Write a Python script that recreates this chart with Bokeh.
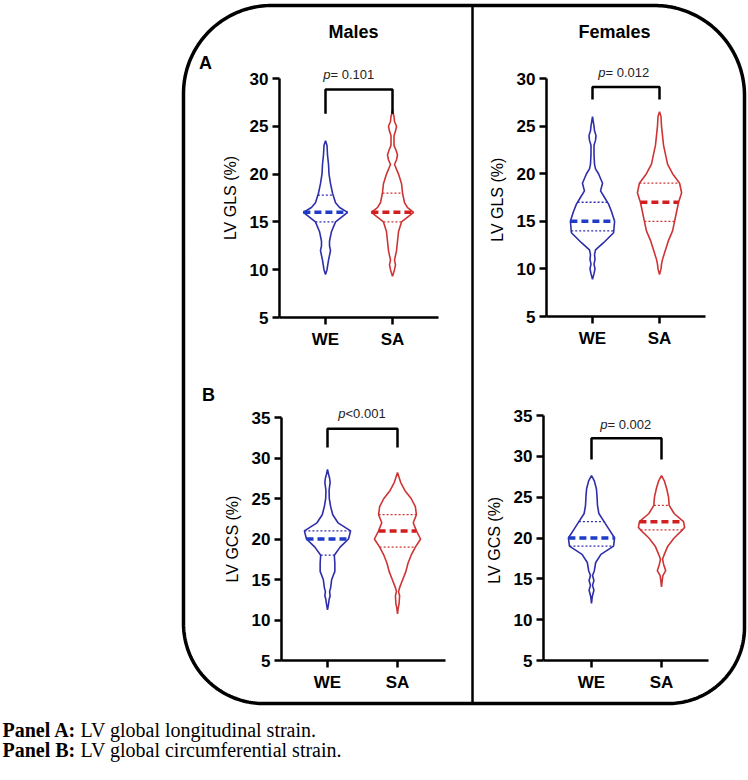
import numpy as np
from bokeh.plotting import figure
from bokeh.models import Label, FixedTicker, Range1d, LinearAxis
from bokeh.embed import file_html
from bokeh.resources import INLINE

# ---------------- data ----------------
groups = ["WE", "SA"]
group_x = [1, 2]

# Males, LV GLS (%) -- violin outline: value levels and relative half-widths
male_gls_we_y = [9.5, 10, 11, 12, 12.5, 13, 14, 15, 15.5, 16, 16.5, 17, 18, 19, 20, 21, 22, 23, 23.5]
male_gls_we_w = [0, 1.5, 3, 5, 4, 4, 6, 10, 16, 22, 14, 10, 7, 5, 3.5, 3, 2, 1.5, 0]
male_gls_we_q = [15, 16, 17.8]
male_gls_sa_y = [9.3, 10, 10.5, 11, 12, 13, 14, 15, 15.5, 16, 16.5, 17, 18, 19, 20, 21, 21.5, 22, 22.5, 23, 24, 24.5, 25, 25.5, 26, 26.7]
male_gls_sa_w = [0, 2, 3, 2, 4, 5, 6, 9, 15, 21, 15, 12, 10, 9, 6, 2, 4, 5, 3.5, 1.5, 1.5, 3, 4, 2, 1.5, 0]
male_gls_sa_q = [15, 16, 18]

# Females, LV GLS (%)
female_gls_we_y = [8.9, 9.5, 10, 10.5, 11, 11.5, 12, 12.75, 13.8, 15, 16, 16.8, 17.5, 18.2, 19, 20, 20.5, 21, 22, 23, 23.5, 24, 24.5, 25, 26]
female_gls_we_w = [0, 1.5, 2.5, 1.5, 2.5, 2, 3, 11, 21, 22, 19, 16, 12, 8, 10, 6, 3, 2, 1.5, 1.5, 3, 3.5, 2, 1.5, 0]
female_gls_we_q = [14, 15, 17]
female_gls_sa_y = [9.4, 10, 10.5, 11, 12, 13, 14, 15, 16, 17, 18, 19, 20, 21, 22, 23, 24, 25, 26, 26.5]
female_gls_sa_w = [0, 1.5, 2, 3, 6, 9, 13, 15, 17, 19, 22, 20, 13, 8, 6, 4, 3, 2, 1.5, 0]
female_gls_sa_q = [15, 17, 19]

# Males, LV GCS (%)
male_gcs_we_y = [11.25, 12, 12.5, 13, 13.5, 14, 15, 16, 17, 18, 19, 20, 20.5, 21, 21.5, 22, 23, 24, 25, 26, 26.5, 27, 27.5, 28, 28.6]
male_gcs_we_w = [0, 1, 1.5, 2.5, 2, 3, 4, 7, 7, 6.5, 12, 20, 21, 22, 16, 10, 5, 3, 1.7, 1.5, 2, 2.5, 2, 1, 0]
male_gcs_we_q = [18, 20, 21]
male_gcs_sa_y = [10.75, 11.5, 12, 13, 13.5, 14, 15, 16, 17, 18, 19, 20, 21, 22, 23, 24, 25, 26, 27, 28.2]
male_gcs_sa_w = [0, 0.7, 1.5, 2, 1, 2, 5, 8, 10, 13, 17, 22, 18, 15, 18, 17, 13, 7, 3, 0]
male_gcs_sa_q = [19, 21, 23]

# Females, LV GCS (%)
female_gcs_we_y = [12, 12.8, 13.6, 14.2, 14.8, 15.4, 16, 17, 18, 19, 20, 21, 22, 23, 24, 25, 26, 27, 27.65]
female_gcs_we_w = [0, 0.7, 2.3, 1, 2.3, 1, 2.7, 4, 9, 21, 22, 17, 12, 7, 5.7, 5.3, 4.7, 2.7, 0]
female_gcs_we_q = [19, 20, 22]
female_gcs_sa_y = [14, 14.8, 15.4, 16, 16.8, 17.4, 18, 19, 20, 21, 21.3, 22, 23, 24, 25, 26, 27, 27.65]
female_gcs_sa_w = [0, 0.7, 1.3, 4, 2, 1, 2.7, 6, 12, 20, 22, 21, 12, 7.3, 6.7, 5, 2.7, 0]
female_gcs_sa_q = [21, 22, 24]

gls_ticks = [5, 10, 15, 20, 25, 30]
gcs_ticks = [5, 10, 15, 20, 25, 30, 35]

p_values = ["= 0.101", "= 0.012", "<0.001", "= 0.002"]
bracket_top = [28.85, 29.1, 33.6, 32.2]
bracket_end = [26.3, 27.8, 31.3, 29.6]

column_titles = ["Males", "Females"]
panel_letters = ["A", "B"]
caption_bold = ["Panel A:", "Panel B:"]
caption_text = ["LV global longitudinal strain.", "LV global circumferential strain."]

# ---------------- style / geometry ----------------
SANS = "Liberation Sans"
SERIF = "Liberation Serif"
BLUE = "#2e2eab"
BLUE_MED = "#1f3cc8"
RED = "#cf3434"
RED_MED = "#d21e1e"
HALF_W = 0.33 / 22.0   # category units per relative width unit

W, H = 748, 778
FR_L, FR_T, FR_R, FR_B = 183, 5, 744, 703
DIV_X = 472


def rounded_path(L, T, R, B, rtl, rtr, rbr, rbl, n=60):
    xs, ys = [], []
    for cx, cy, r, a0, a1 in [
        (L + rtl, T + rtl, rtl, np.pi, 1.5 * np.pi),
        (R - rtr, T + rtr, rtr, 1.5 * np.pi, 2 * np.pi),
        (R - rbr, B - rbr, rbr, 0, 0.5 * np.pi),
        (L + rbl, B - rbl, rbl, 0.5 * np.pi, np.pi),
    ]:
        a = np.linspace(a0, a1, n)
        xs += list(cx + r * np.cos(a))
        ys += list(cy + r * np.sin(a))
    return xs + [xs[0]], ys + [ys[0]]


FRAME_XS, FRAME_YS = rounded_path(FR_L, FR_T, FR_R, FR_B, 88, 90, 76, 80)

# one canvas; default ranges are page pixels (y downward)
p = figure(frame_width=W, frame_height=H, x_range=Range1d(0, W), y_range=Range1d(H, 0),
           x_axis_type=None, y_axis_type=None, min_border=0,
           toolbar_location=None, output_backend="svg", tools="")
p.outline_line_color = None
p.grid.visible = False
p.background_fill_color = "white"
p.border_fill_color = "white"

# rounded frame and divider
p.line(FRAME_XS, FRAME_YS, line_color="black", line_width=3.5, line_join="round")
p.line([DIV_X, DIV_X], [FR_T, FR_B], line_color="black", line_width=2.5)

panels = [
    dict(cat_px=(325, 392), yaxis_px=279, xend_px=438, py_v=(317, 78), yv=(5, 30),
         ticks=gls_ticks, ylabel="LV GLS (%)",
         viol=[(male_gls_we_y, male_gls_we_w, male_gls_we_q), (male_gls_sa_y, male_gls_sa_w, male_gls_sa_q)],
         ptext=(330, 74)),
    dict(cat_px=(592, 659), yaxis_px=546, xend_px=705, py_v=(316, 78), yv=(5, 30),
         ticks=gls_ticks, ylabel="LV GLS  (%)",
         viol=[(female_gls_we_y, female_gls_we_w, female_gls_we_q), (female_gls_sa_y, female_gls_sa_w, female_gls_sa_q)],
         ptext=(605, 72)),
    dict(cat_px=(327, 397), yaxis_px=281, xend_px=445, py_v=(660, 417), yv=(5, 35),
         ticks=gcs_ticks, ylabel="LV GCS (%)",
         viol=[(male_gcs_we_y, male_gcs_we_w, male_gcs_we_q), (male_gcs_sa_y, male_gcs_sa_w, male_gcs_sa_q)],
         ptext=(345, 413)),
    dict(cat_px=(591, 661), yaxis_px=543, xend_px=708, py_v=(660, 415), yv=(5, 35),
         ticks=gcs_ticks, ylabel="LV GCS  (%)",
         viol=[(female_gcs_we_y, female_gcs_we_w, female_gcs_we_q), (female_gcs_sa_y, female_gcs_sa_w, female_gcs_sa_q)],
         ptext=(607, 424)),
]


def style_axis(ax):
    ax.axis_line_width = 2.5
    ax.axis_line_color = "black"
    ax.major_tick_line_width = 2.5
    ax.major_tick_line_color = "black"
    ax.major_tick_in = 0
    ax.major_tick_out = 7
    ax.minor_tick_line_color = None
    ax.major_label_text_font = SANS
    ax.major_label_text_font_style = "bold"
    ax.major_label_text_font_size = "17px"
    ax.major_label_text_color = "black"


for k, spec in enumerate(panels):
    c0, c1 = spec["cat_px"]
    pyv0, pyv1 = spec["py_v"]
    v0, v1 = spec["yv"]

    def X(px, c0=c0, c1=c1):
        return group_x[0] + (px - c0) * (group_x[1] - group_x[0]) / (c1 - c0)

    def Y(py, pyv0=pyv0, pyv1=pyv1, v0=v0, v1=v1):
        return v0 + (pyv0 - py) * (v1 - v0) / (pyv0 - pyv1)

    xn, yn = f"px{k}", f"py{k}"
    p.extra_x_ranges[xn] = Range1d(X(0), X(W))
    p.extra_y_ranges[yn] = Range1d(Y(H), Y(0))
    kw = dict(x_range_name=xn, y_range_name=yn)

    xa0, xa1 = X(spec["yaxis_px"]), X(spec["xend_px"])
    yax = LinearAxis(fixed_location=xa0, bounds=(v0, v1), ticker=FixedTicker(ticks=spec["ticks"]),
                     axis_label=spec["ylabel"], **kw)
    style_axis(yax)
    yax.major_label_standoff = 4
    yax.axis_label_text_font = SANS
    yax.axis_label_text_font_style = "normal"
    yax.axis_label_text_font_size = "16px"
    yax.axis_label_text_color = "black"
    yax.axis_label_standoff = 8
    p.add_layout(yax, "left")

    xax = LinearAxis(fixed_location=v0, bounds=(xa0, xa1), ticker=FixedTicker(ticks=group_x),
                     major_label_overrides={gx: g for gx, g in zip(group_x, groups)}, **kw)
    style_axis(xax)
    xax.major_label_standoff = 5
    p.add_layout(xax, "below")

    # violins with median (dashed) and quartiles (dotted)
    for (ys, ws, q), cx, lc, mc in zip(spec["viol"], group_x, [BLUE, RED], [BLUE_MED, RED_MED]):
        ys = np.array(ys, float)
        hw = np.array(ws, float) * HALF_W
        xs = np.concatenate([cx + hw, (cx - hw)[::-1]])
        yy = np.concatenate([ys, ys[::-1]])
        p.patch(xs, yy, fill_color="white", line_color=lc, line_width=1.6, **kw)
        for i, qv in enumerate(q):
            h = float(np.interp(qv, ys, hw))
            if i == 1:
                p.line([cx - h, cx + h], [qv, qv], line_color=mc, line_width=3.5, line_dash="7 4", **kw)
            else:
                p.line([cx - h, cx + h], [qv, qv], line_color=lc, line_width=1.3, line_dash="2 2", **kw)

    # significance bracket and p-value
    p.line([group_x[0], group_x[0], group_x[1], group_x[1]],
           [bracket_end[k], bracket_top[k], bracket_top[k], bracket_end[k]],
           line_color="black", line_width=2.5, **kw)
    tx, ty = spec["ptext"]
    p.add_layout(Label(x=X(tx), y=Y(ty), text="p", text_font=SANS, text_font_style="italic",
                       text_font_size="13px", text_align="right", text_baseline="middle",
                       text_color="#222222", **kw))
    p.add_layout(Label(x=X(tx), y=Y(ty), text=p_values[k], text_font=SANS,
                       text_font_size="13px", text_align="left", text_baseline="middle",
                       text_color="#222222", **kw))

# titles and panel letters (page pixels)
for t, tx, ty, fs in [(column_titles[0], 353, 31, "18px"), (column_titles[1], 614, 31, "18px"),
                      (panel_letters[0], 205, 62, "18px"), (panel_letters[1], 208, 394, "18px")]:
    p.add_layout(Label(x=tx, y=ty, text=t, text_font=SANS, text_font_style="bold",
                       text_font_size=fs, text_align="center", text_baseline="middle", text_color="black"))

# caption
for i, (b, t) in enumerate(zip(caption_bold, caption_text)):
    yc = 729 + 20 * i
    p.add_layout(Label(x=2, y=yc, text=b, text_font=SERIF, text_font_style="bold", text_font_size="20px",
                       text_align="left", text_baseline="middle", text_color="black"))
    p.add_layout(Label(x=80, y=yc, text=t, text_font=SERIF, text_font_size="20px",
                       text_align="left", text_baseline="middle", text_color="black"))

open("out.html", "w").write(file_html(p, INLINE))
